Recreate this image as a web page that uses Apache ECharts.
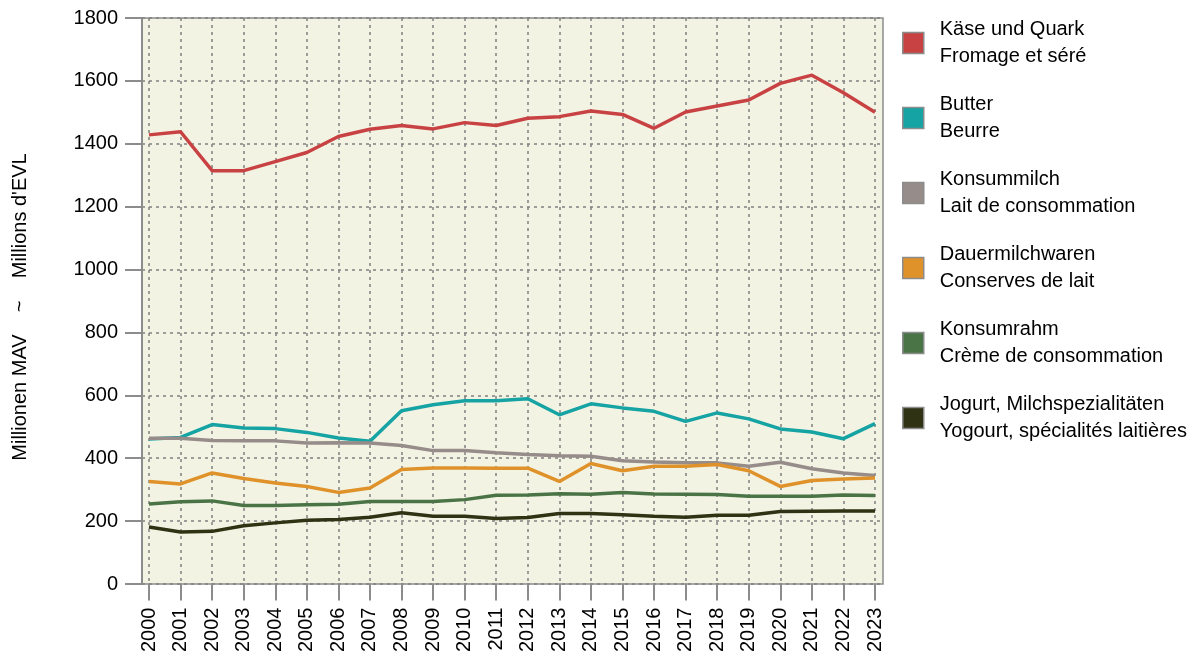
<!DOCTYPE html>
<html>
<head>
<meta charset="utf-8">
<script src="https://cdn.jsdelivr.net/npm/echarts@6/dist/echarts.min.js"></script>
<style>
html,body{margin:0;padding:0;background:#fff;}
#c{width:1190px;height:655px;}
</style>
</head>
<body>
<div id="c"></div>
<script>
const years = ['2000','2001','2002','2003','2004','2005','2006','2007','2008','2009','2010','2011','2012','2013','2014','2015','2016','2017','2018','2019','2020','2021','2022','2023'];
const yTicks = {min: 0, max: 1800, interval: 200};
const names = [
  'Käse und Quark\nFromage et séré',
  'Butter\nBeurre',
  'Konsummilch\nLait de consommation',
  'Dauermilchwaren\nConserves de lait',
  'Konsumrahm\nCrème de consommation',
  'Jogurt, Milchspezialitäten\nYogourt, spécialités laitières'
];
const kaese   = [1428,1438,1314,1314,1343,1372,1423,1446,1458,1447,1467,1458,1481,1486,1504,1493,1449,1501,1520,1539,1592,1618,1562,1500];
const butter  = [460,465,506,495,493,481,463,453,550,569,582,582,588,537,572,559,548,516,543,524,492,482,461,509];
const milch   = [462,462,455,454,454,447,448,447,439,423,423,416,411,407,405,391,387,384,384,373,386,365,352,344];
const dauer   = [325,317,352,334,320,309,290,304,363,368,368,367,367,325,382,359,373,373,379,359,309,328,333,336];
const rahm    = [253,260,263,248,248,251,252,261,261,261,267,281,282,286,284,290,285,284,283,278,278,278,282,280];
const jogurt  = [180,164,166,184,193,201,204,211,225,214,214,207,210,223,223,219,214,211,217,217,229,230,231,231];
const colors = ['#c94243','#15a3a3','#968c89','#e0922a','#4a7446','#2f3213'];
const seriesData = [kaese, butter, milch, dauer, rahm, jogurt];

const font = "'Liberation Sans', Arial, sans-serif";
const gridColor = '#808080';

const chart = echarts.init(document.getElementById('c'), null, {renderer: 'canvas'});
chart.setOption({
  animation: false,
  textStyle: {fontFamily: font},
  grid: [
    {left: 142, top: 18, width: 741, height: 566, show: true, backgroundColor: '#f3f3e3', borderColor: '#8c8c8c', borderWidth: 1.5},
    {left: 149, top: 18, width: 726, height: 566}
  ],
  xAxis: [
    {gridIndex: 0, type: 'value', min: 0, max: 1, show: false},
    {gridIndex: 1, type: 'category', data: years, boundaryGap: false,
     axisLine: {show: false},
     axisTick: {show: true, length: 17, alignWithLabel: true, lineStyle: {color: '#8c8c8c', width: 2}},
     axisLabel: {rotate: 90, margin: 24, fontSize: 20, color: '#000', fontFamily: font, interval: 0},
     splitLine: {show: true, interval: 0, lineStyle: {color: gridColor, width: 1.5, type: [3, 4]}}
    }
  ],
  yAxis: [
    {gridIndex: 0, type: 'value', min: yTicks.min, max: yTicks.max, interval: yTicks.interval,
     name: 'Millionen MAV    ~    Millions d\'EVL', nameLocation: 'middle', nameGap: 112, nameRotate: 90,
     nameTextStyle: {fontSize: 20, color: '#000', fontFamily: font, padding: [0, 12, 0, 0]},
     axisLine: {show: true, lineStyle: {color: '#8c8c8c', width: 2}},
     axisTick: {show: true, length: 17, lineStyle: {color: '#8c8c8c', width: 2}},
     axisLabel: {margin: 24, fontSize: 20, color: '#000', fontFamily: font, formatter: v => String(v)},
     splitLine: {show: true, lineStyle: {color: gridColor, width: 1.5, type: [3, 4]}}
    },
    {gridIndex: 1, type: 'value', min: yTicks.min, max: yTicks.max, interval: yTicks.interval, show: false, splitLine: {show: false}}
  ],
  legend: {
    orient: 'vertical', left: 902, top: 16, padding: 0,
    itemWidth: 21, itemHeight: 21, itemGap: 21, icon: 'rect',
    itemStyle: {borderColor: '#8c8c8c', borderWidth: 1.5},
    textStyle: {fontSize: 20, lineHeight: 27, color: '#000', fontFamily: font, padding: [0, 0, 0, 11]},
    data: names,
    selectedMode: false
  },
  series: names.map((n, i) => ({
    name: n, type: 'line', xAxisIndex: 1, yAxisIndex: 1,
    data: seriesData[i], symbol: 'none', smooth: false,
    lineStyle: {color: colors[i], width: 3.5},
    itemStyle: {color: colors[i]},
    z: 3 + i
  }))
});
</script>
</body>
</html>
